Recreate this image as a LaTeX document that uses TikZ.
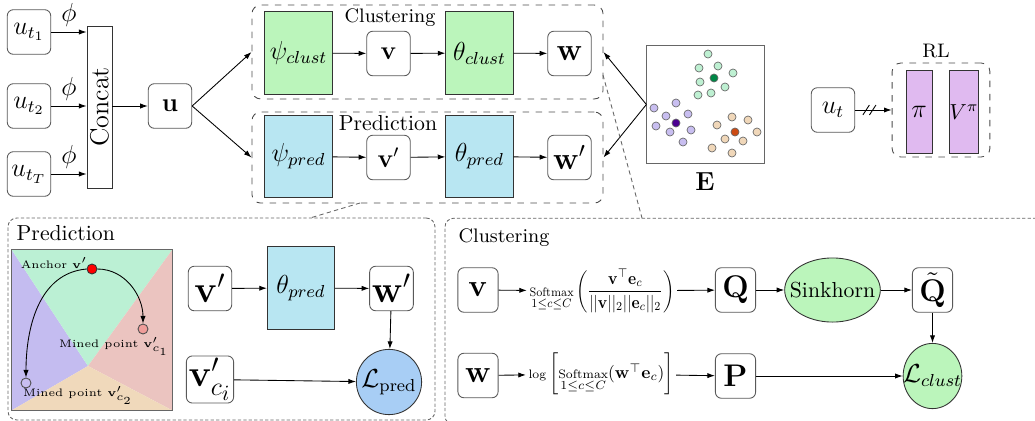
\documentclass[tikz,border=0pt]{standalone}
\usepackage{amsmath}
\usetikzlibrary{positioning}
\usetikzlibrary{shapes.geometric,arrows.meta}

\definecolor{clustgreen}{RGB}{187,245,187}
\definecolor{predblue}{RGB}{184,230,242}
\definecolor{rlpurple}{RGB}{224,186,240}
\definecolor{lossblue}{RGB}{168,206,245}
\definecolor{dotgreen}{RGB}{190,240,210}
\definecolor{dotpurple}{RGB}{200,190,240}
\definecolor{dotpeach}{RGB}{240,215,185}
\definecolor{cgreen}{RGB}{0,135,70}
\definecolor{cpurple}{RGB}{75,0,145}
\definecolor{corange}{RGB}{205,75,20}
\definecolor{reggreen}{RGB}{187,240,212}
\definecolor{regpurple}{RGB}{196,188,240}
\definecolor{regred}{RGB}{235,196,192}
\definecolor{regpeach}{RGB}{240,217,187}

\begin{document}
\begin{tikzpicture}[x=0.46pt,y=-0.46pt,>={Latex[length=3.5pt,width=2.4pt]},
  vbox/.style={draw=black!65,rounded corners=2.8pt,minimum width=20pt,minimum height=20.5pt,inner sep=1pt,fill=white},
  net/.style={draw=black!80,minimum width=31pt,minimum height=38pt,inner sep=1pt,font=\large},
  grp/.style={draw=black!70,dashed,rounded corners=4pt},
  area/.style={draw=black!60,dash pattern=on 1.5pt off 1pt,rounded corners=4pt},
  link/.style={draw=black!60,dash pattern=on 2pt off 1.5pt},
  dot/.style={draw=black!60,line width=0.3pt},
  lossnode/.style={draw=black!80,inner sep=0}]
\clip (0,0) rectangle (1035,421);
% inputs
\node[vbox,font=\large] (ut1) at (29,32) {$u_{t_1}$};
\node[vbox,font=\large] (ut2) at (29,106) {$u_{t_2}$};
\node[vbox,font=\large] (utT) at (29,174) {$u_{t_T}$};
\node[draw=black!80,minimum width=11.5pt,minimum height=74.5pt,inner sep=0] (concat) at (99.5,107) {\rotatebox{90}{\large Concat}};
\node[vbox,font=\large] (u) at (170,106) {$\mathbf{u}$};
\draw[->] (ut1.east) -- (ut1.east -| concat.west) node[midway,above=-1pt,font=\large] {$\phi$};
\draw[->] (ut2.east) -- (ut2.east -| concat.west) node[midway,above=-1pt,font=\large] {$\phi$};
\draw[->] (utT.east) -- (utT.east -| concat.west) node[midway,above=-1pt,font=\large] {$\phi$};
\draw[->] (concat.east |- u) -- (u);
% encoders
\node[grp,minimum width=161.5pt,minimum height=43.2pt] (clustbox) at (427.5,52) {};
\node[grp,minimum width=161.5pt,minimum height=41.9pt] (predbox) at (427.5,157.5) {};
\node[font=\small] (clusttitle) at (390,18) {Clustering};
\node (predtitle) at (388,123) {Prediction};
\node[net,fill=clustgreen] (psic) at (298.5,53) {$\psi_{clust}$};
\node[vbox,font=\large] (v) at (388.5,53.5) {$\mathbf{v}$};
\node[net,fill=clustgreen] (thc) at (479.5,53) {$\theta_{clust}$};
\node[vbox,font=\Large] (w) at (569.5,53.5) {$\mathbf{w}$};
\node[net,fill=predblue] (psip) at (298.5,156.5) {$\psi_{pred}$};
\node[vbox,font=\large] (vp) at (388.5,157.5) {$\mathbf{v}'$};
\node[net,fill=predblue] (thp) at (479.5,156.5) {$\theta_{pred}$};
\node[vbox,font=\Large] (wp) at (569.5,157.5) {$\mathbf{w}'$};
\draw[->] (u.east) -- (clustbox.west);
\draw[->] (u.east) -- (predbox.west);
\draw[->] (psic) -- (v);
\draw[->] (v) -- (thc);
\draw[->] (thc) -- (w);
\draw[->] (psip) -- (vp);
\draw[->] (vp) -- (thp);
\draw[->] (thp) -- (wp);
% embedding space
\node[draw=black!60,minimum size=54pt] (E) at (705.5,104.5) {};
\node[font=\large] (elab) at (705,182) {$\mathbf{E}$};
\draw[->] (E.west) -- (clustbox.east);
\draw[->] (E.west) -- (predbox.east);
\foreach \x/\y in {708/54,699/68,718/66,733/73,700/82,725/87,698/95,711/93}
  \draw[dot,fill=dotgreen] (\x,\y) circle (1.85pt);
\foreach \x/\y in {654/108,676/103,666/116,688/114,656/126,670/132,691/130,683/142}
  \draw[dot,fill=dotpurple] (\x,\y) circle (1.85pt);
\foreach \x/\y in {732/117,748/120,717/125,757/132,725/139,743/141,712/148,732/153}
  \draw[dot,fill=dotpeach] (\x,\y) circle (1.85pt);
\draw[dot,fill=cgreen] (714,78) circle (1.85pt);
\draw[dot,fill=cpurple] (676,123) circle (1.85pt);
\draw[dot,fill=corange] (735,132) circle (1.85pt);
% RL
\node[vbox,font=\large] (ut) at (833,110) {$u_t$};
\node[grp,minimum width=45pt,minimum height=43.2pt] (rlbox) at (941,110) {};
\node[font=\small] (rltitle) at (936,51) {RL};
\node[draw=black!80,fill=rlpurple,minimum width=12pt,minimum height=38pt,inner sep=0,font=\large] (pi) at (919,112) {$\pi$};
\node[draw=black!80,fill=rlpurple,minimum width=12pt,minimum height=38pt,inner sep=0] (vpi) at (964,112) {$V^\pi$};
\draw[->] (ut.east) -- (rlbox.west) coordinate[pos=0.3] (cut1) coordinate[pos=0.48] (cut2);
\draw (cut1) ++(-1.5pt,-2.3pt) -- ++(3pt,4.6pt);
\draw (cut2) ++(-1.5pt,-2.3pt) -- ++(3pt,4.6pt);
% zoom links
\coordinate (zp1) at (360,203);
\coordinate (zp2) at (310,218);
\coordinate (zc1) at (603,75);
\coordinate (zc2) at (642,218);
\draw[link] (zp1) -- (zp2);
\draw[link] (zc1) -- (zc2);
% prediction detail
\node[area,minimum width=196.4pt,minimum height=92.9pt] (predlow) at (221.5,319) {};
\node[anchor=west] (predlab) at (9,233) {Prediction};
\node[minimum size=73.6pt,inner sep=0] (sq) at (92,330) {};
\coordinate (mid) at (88,366);
\fill[regpurple] (sq.north west) -- (mid) -- (sq.south west) -- cycle;
\fill[reggreen] (sq.north west) -- (sq.north east) -- (mid) -- cycle;
\fill[regred] (sq.north east) -- (sq.south east) -- (mid) -- cycle;
\fill[regpeach] (sq.south west) -- (sq.south east) -- (mid) -- cycle;
\draw[black!60] (sq.north west) rectangle (sq.south east);
\node[circle,draw=black!80,fill=red,minimum size=4.6pt,inner sep=0] (anc) at (92,269) {};
\node[circle,draw=black!70,fill=regred!80!red,minimum size=4.6pt,inner sep=0] (c1) at (143,329) {};
\node[circle,draw=black!70,fill=dotpurple,minimum size=4.6pt,inner sep=0] (c2) at (26,383) {};
\node[font=\tiny] (anclab) at (54,263) {Anchor $\mathbf{v}'$};
\node[font=\tiny] (c1lab) at (114,346) {Mined point $\mathbf{v}'_{c_1}$};
\node[font=\tiny] (c2lab) at (78,395) {Mined point $\mathbf{v}'_{c_2}$};
\draw[->,thin] (anc.east) to[out=0,in=90] (c1.north);
\draw[->,thin] (anc.west) to[out=185,in=90] (c2.north);
\node[vbox,font=\LARGE] (vp2) at (210,288.5) {$\mathbf{v}'$};
\node[net,fill=predblue] (thp2) at (301,288) {$\theta_{pred}$};
\node[vbox,font=\LARGE] (wp2) at (391.5,288.5) {$\mathbf{w}'$};
\node[vbox,font=\LARGE] (vci) at (210,379.5) {$\mathbf{v}'_{c_i}$};
\node[lossnode,circle,fill=lossblue,minimum size=30pt,font=\large] (lpred) at (389,382) {$\mathcal{L}_{\text{pred}}$};
\draw[->] (vp2) -- (thp2);
\draw[->] (thp2) -- (wp2);
\draw[->] (wp2) -- (lpred);
\draw[->] (vci) -- (lpred);
% clustering detail
\node[area,minimum width=276pt,minimum height=95pt] (clustlow) at (745,321.5) {};
\node[anchor=west,font=\small] (clustlab) at (451,238) {Clustering};
\node[vbox,minimum width=18.5pt,font=\Large] (v3) at (478,290) {$\mathbf{v}$};
\node[inner sep=1pt] (sm) at (602,291) {\resizebox*{66.7pt}{20pt}{$\mathop{\mbox{\scriptsize Softmax}}\limits_{1\leq c\leq C}\left(\dfrac{\mathbf{v}^\top\mathbf{e}_c}{||\mathbf{v}||_2||\mathbf{e}_c||_2}\right)$}};
\node[vbox,minimum width=18.5pt,font=\Large] (Q) at (735.5,290) {$\mathbf{Q}$};
\node[lossnode,ellipse,fill=clustgreen,minimum width=44pt,minimum height=29.5pt,label=center:Sinkhorn] (sink) at (832.5,290) {};
\node[vbox,minimum width=18.5pt,font=\Large] (Qt) at (932.5,290) {$\tilde{\mathbf{Q}}$};
\node[vbox,minimum width=18.5pt,font=\Large] (w3) at (478,375.5) {$\mathbf{w}$};
\node[inner sep=1pt] (lg) at (601,374) {\resizebox*{66.7pt}{19.3pt}{$\mbox{\scriptsize log}\left[\mathop{\mbox{\scriptsize Softmax}}\limits_{1\leq c\leq C}(\mathbf{w}^\top\mathbf{e}_c)\right]$}};
\node[vbox,minimum width=18.5pt,font=\Large] (P) at (735.5,376) {$\mathbf{P}$};
\node[lossnode,ellipse,fill=clustgreen,minimum width=27pt,minimum height=30pt,label={[font=\large]center:$\mathcal{L}_{clust}$}] (lclust) at (932.5,376) {};
\draw[->] (v3) -- (sm);
\draw[->] (sm) -- (Q);
\draw[->] (Q) -- (sink);
\draw[->] (sink) -- (Qt);
\draw[->] (Qt) -- (lclust);
\draw[->] (w3) -- (lg);
\draw[->] (lg) -- (P);
\draw[->] (P) -- (lclust);
\end{tikzpicture}
\end{document}
